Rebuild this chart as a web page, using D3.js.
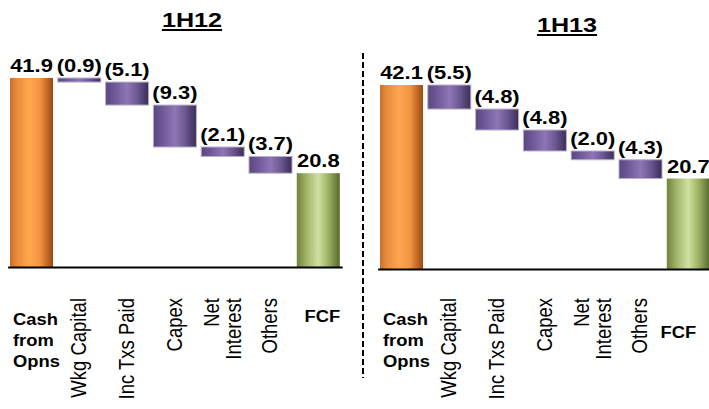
<!DOCTYPE html>
<html>
<head>
<meta charset="utf-8">
<script src="https://cdn.jsdelivr.net/npm/d3@7/dist/d3.min.js"></script>
<style>
	body { margin: 0; background: #fff; }
	svg { display: block; font-family: Arial, 'Liberation Sans', sans-serif; }
</style>
</head>
<body>
<svg id="chart" width="709" height="409"></svg>
<script>
// data
var categories = ['Cash from Opns', 'Wkg Capital', 'Inc Txs Paid', 'Capex', 'Net Interest', 'Others', 'FCF'];
var categoryLines = [['Cash', 'from', 'Opns'], ['Wkg Capital'], ['Inc Txs Paid'], ['Capex'], ['Net', 'Interest'], ['Others'], ['FCF']];
var values1H12 = [41.9, -0.9, -5.1, -9.3, -2.1, -3.7, 20.8];
var values1H13 = [42.1, -5.5, -4.8, -4.8, -2.0, -4.3, 20.7];

var panels = [
	{ title: '1H12', values: values1H12, x0: 7.6, x1: 342.2, base: 267, top: 78, titleX: 192, titleY: 27, fcfX: 4, fcfY: 322 },
	{ title: '1H13', values: values1H13, x0: 377.6, x1: 712.2, base: 269, top: 85, titleX: 567, titleY: 32, fcfX: -10, fcfY: 338 }
];

var svg = d3.select('svg#chart');
var defs = svg.append('defs');

function gradient(id, stops) {
	var g = defs.append('linearGradient')
		.attr('id', id)
		.attr('x1', '0%').attr('x2', '100%')
		.attr('y1', '0%').attr('y2', '0%');
	g.selectAll('stop')
		.data(stops)
		.enter()
		.append('stop')
		.attr('offset', function(d) { return d[0]; })
		.attr('stop-color', function(d) { return d[1]; });
}

gradient('gOrange', [['0%', '#c8702a'], ['15%', '#e88a3a'], ['45%', '#ffa650'], ['70%', '#f29440'], ['100%', '#9a4812']]);
gradient('gPurple', [['0%', '#5a4680'], ['20%', '#6c5894'], ['50%', '#8f76b6'], ['75%', '#6a5690'], ['100%', '#3a2c56']]);
gradient('gGreen', [['0%', '#6f8438'], ['20%', '#9cb064'], ['50%', '#d0e0a2'], ['75%', '#9aae60'], ['100%', '#55692a']]);

function fmt(v) {
	return v < 0 ? '(' + Math.abs(v).toFixed(1) + ')' : v.toFixed(1);
}

panels.forEach(function(p) {
	var g = svg.append('g');

	// running totals for waterfall
	var run = 0;
	var bars = p.values.map(function(v, i) {
		var last = i === p.values.length - 1;
		var lo, hi;
		if (i === 0 || last) {
			lo = 0; hi = v; run = v;
		} else {
			hi = run; lo = run + v; run = lo;
		}
		return { cat: categories[i], lines: categoryLines[i], v: v, lo: lo, hi: hi, i: i, last: last };
	});

	var xScale = d3.scaleBand()
		.domain(categories)
		.range([p.x0, p.x1])
		.paddingInner(0.1)
		.paddingOuter(0.05);

	var yScale = d3.scaleLinear()
		.domain([0, p.values[0]])
		.range([p.base, p.top]);

	g.selectAll('rect.bar')
		.data(bars)
		.enter()
		.append('rect')
		.attr('class', 'bar')
		.attr('x', function(d) { return xScale(d.cat); })
		.attr('width', xScale.bandwidth())
		.attr('y', function(d) { return yScale(d.hi); })
		.attr('height', function(d) { return Math.max(3, yScale(d.lo) - yScale(d.hi)); })
		.style('fill', function(d) {
			if (d.i === 0) return 'url(#gOrange)';
			if (d.last) return 'url(#gGreen)';
			return 'url(#gPurple)';
		})
		.style('stroke', function(d) { return (d.i === 0 || d.last) ? 'none' : '#b8b0c8'; })
		.style('stroke-width', 1);

	// baseline
	g.append('g')
		.attr('transform', 'translate(0,' + p.base + ')')
		.call(d3.axisBottom(xScale).tickSize(0).tickSizeOuter(0).tickFormat(''))
		.select('.domain')
		.style('stroke', '#000')
		.style('stroke-width', 2);

	// value labels
	g.selectAll('text.val')
		.data(bars)
		.enter()
		.append('text')
		.attr('class', 'val')
		.attr('transform', function(d) {
			return 'translate(' + (xScale(d.cat) + xScale.bandwidth() / 2) + ',' + (yScale(d.hi) - 6) + ') scale(1.22,1)';
		})
		.style('text-anchor', 'middle')
		.style('font-size', '18px')
		.style('font-weight', 'bold')
		.style('fill', '#000')
		.text(function(d) { return fmt(d.v); });

	// category labels
	bars.forEach(function(d) {
		var cx = xScale(d.cat) + xScale.bandwidth() / 2;
		if (d.i === 0) {
			g.append('text')
				.attr('transform', 'translate(' + (xScale(d.cat) + 3) + ',325) scale(1.08,1)')
				.style('font-size', '17px')
				.style('font-weight', 'bold')
				.selectAll('tspan')
				.data(d.lines)
				.enter()
				.append('tspan')
				.attr('x', 0)
				.attr('dy', function(l, k) { return k === 0 ? 0 : 21; })
				.text(function(l) { return l; });
		} else if (d.last) {
			g.append('text')
				.attr('transform', 'translate(' + (cx + p.fcfX) + ',' + p.fcfY + ') scale(1.08,1)')
				.style('text-anchor', 'middle')
				.style('font-size', '17px')
				.style('font-weight', 'bold')
				.text(d.lines[0]);
		} else {
			var n = d.lines.length;
			g.append('text')
				.attr('transform', 'translate(' + cx + ',298) rotate(-90) scale(1,1.15)')
				.style('text-anchor', 'end')
				.style('font-size', '18.5px')
				.selectAll('tspan')
				.data(d.lines)
				.enter()
				.append('tspan')
				.attr('x', 0)
				.attr('y', function(l, k) { return (k - (n - 1) / 2) * 19 + 6; })
				.text(function(l) { return l; });
		}
	});

	// title
	var t = g.append('text')
		.attr('transform', 'translate(' + p.titleX + ',' + p.titleY + ') scale(1.29,1)')
		.style('text-anchor', 'middle')
		.style('font-size', '19.5px')
		.style('font-weight', 'bold')
		.text(p.title);
	var tw = t.node().getComputedTextLength() * 1.29;
	g.append('line')
		.attr('x1', p.titleX - tw / 2)
		.attr('x2', p.titleX + tw / 2)
		.attr('y1', p.titleY + 3)
		.attr('y2', p.titleY + 3)
		.style('stroke', '#000')
		.style('stroke-width', 2);
});

// dashed divider
svg.append('line')
	.attr('x1', 363).attr('x2', 363)
	.attr('y1', 53).attr('y2', 378)
	.style('stroke', '#000')
	.style('stroke-width', 2)
	.style('stroke-dasharray', '6,3');
</script>
</body>
</html>
